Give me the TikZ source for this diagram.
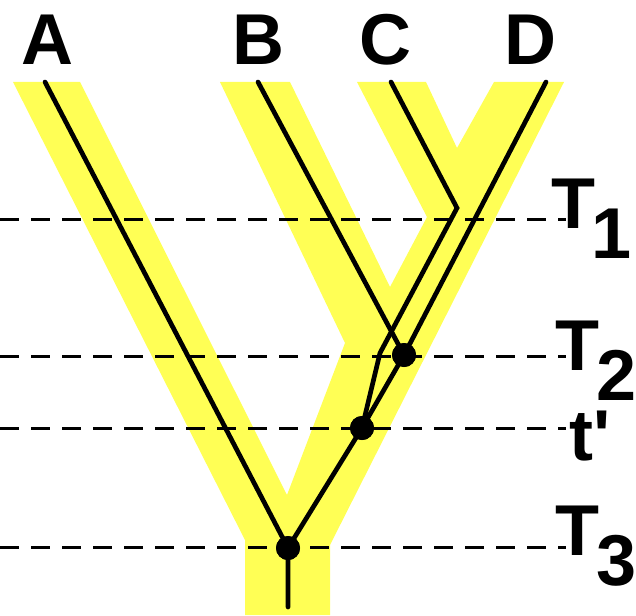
\documentclass[tikz,border=0pt]{standalone}
\usepackage{fontspec}
\newfontfamily\lbl{Liberation Sans Bold}
\definecolor{band}{RGB}{255,255,85}
\begin{document}
\begin{tikzpicture}[x=1pt,y=-1pt,
  species/.style={fill=band},
  gene/.style={line width=4.7pt,line cap=round,line join=miter},
  guide/.style={line width=3pt,dash pattern=on 19pt off 12pt},
  dot/.style={circle,fill=black,minimum size=24pt,inner sep=0pt},
  taxon/.style={anchor=base,inner sep=0pt,font=\lbl\fontsize{72}{72}\selectfont},
  time/.style={anchor=base west,inner sep=0pt,font=\lbl\fontsize{72}{72}\selectfont}]
\useasboundingbox (0,0) rectangle (636,615);
% species tree
\fill[species] (245,615) -- (245,540) -- (13,82) -- (80,82) -- (287,495) -- (345,343)
  -- (220,82) -- (290,82) -- (390,287) -- (427,217) -- (357,82) -- (426,82)
  -- (457,148) -- (494,82) -- (564,82) -- (330,545) -- (330,615) -- cycle;
% time guides
\coordinate (g1l) at (0,219);   \coordinate (g1r) at (566,219);
\coordinate (g2l) at (0,356);   \coordinate (g2r) at (566,356);
\coordinate (gtl) at (0,428);   \coordinate (gtr) at (566,428);
\coordinate (g3l) at (0,547);   \coordinate (g3r) at (566,547);
\draw[guide] (g1l) -- (g1r);
\draw[guide] (g2l) -- (g2r);
\draw[guide] (gtl) -- (gtr);
\draw[guide] (g3l) -- (g3r);
% gene tree
\coordinate (a) at (45,82);
\coordinate (b) at (258,82);
\coordinate (c) at (391,82);
\coordinate (d) at (546,82);
\coordinate (ck) at (457,208);
\coordinate (cb) at (380,353);
\coordinate (root) at (288,607);
\node[dot] (n3) at (288,548) {};
\node[dot] (nt) at (362,428) {};
\node[dot] (n2) at (404,355) {};
\draw[gene] (a) -- (n3.center);
\draw[gene] (b) -- (n2.center);
\draw[gene] (d) -- (n2.center) -- (nt.center) -- (n3.center) -- (root);
\draw[gene] (c) -- (ck) -- (cb) -- (nt.center);
\node[dot] at (n3) {};
\node[dot] at (nt) {};
\node[dot] at (n2) {};
% labels
\node[taxon] (lA) at (47,65) {A};
\node[taxon] (lB) at (258,65) {B};
\node[taxon] (lC) at (385,65) {C};
\node[taxon] (lD) at (530,65) {D};
\node[time] (lT1) at (551,228) {T\kern-4pt\raisebox{-30pt}{1}};
\node[time] (lT2) at (555,370) {T\kern-3pt\raisebox{-30pt}{2}};
\node[time] (ltp) at (569,460) {t'};
\node[time] (lT3) at (555,555) {T\kern-3pt\raisebox{-30pt}{3}};
\end{tikzpicture}
\end{document}
